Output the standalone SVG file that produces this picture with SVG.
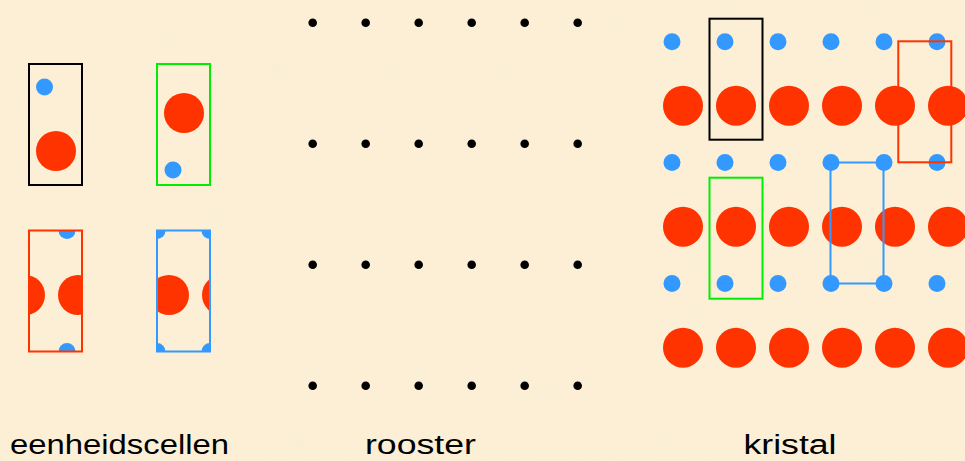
<svg xmlns="http://www.w3.org/2000/svg" width="965" height="461" viewBox="0 0 965 461">
<style>
.bg{fill:#FCEFD6}
.red{fill:#FF3300}
.blue{fill:#3399FF}
.dot{fill:#000}
.cell{fill:none;stroke-width:2}
.k{stroke:#000}
.g{stroke:#00EE00}
.r{stroke:#FF3300}
.b{stroke:#3399FF}
.lbl{font-family:"Comic Sans MS","Liberation Sans",sans-serif;font-size:27px;fill:#000}
</style>
<defs>
<filter id="paper" x="0" y="0" width="100%" height="100%">
<feTurbulence type="fractalNoise" baseFrequency="0.035" numOctaves="3" seed="4" result="n"/>
<feColorMatrix type="matrix" values="0 0 0 0 0.93  0 0 0 0 0.86  0 0 0 0 0.66  0 0 0 1.1 -0.45" result="c"/>
<feComposite in="c" in2="SourceGraphic" operator="in"/>
</filter>
<clipPath id="cpR"><rect x="29" y="230.5" width="53" height="121"/></clipPath>
<clipPath id="cpB"><rect x="157" y="230.5" width="53" height="121"/></clipPath>
</defs>
<rect class="bg" x="0" y="0" width="965" height="461"/>
<rect x="0" y="0" width="965" height="461" fill="#FCEFD6" filter="url(#paper)" opacity="0.5"/>

<g id="cell-black">
<circle class="blue" cx="44.5" cy="87" r="8.5"/>
<circle class="red" cx="56" cy="151" r="20"/>
<rect class="cell k" x="29" y="64" width="53" height="121"/>
</g>
<g id="cell-green">
<circle class="red" cx="184" cy="113" r="20"/>
<circle class="blue" cx="173" cy="170" r="8.5"/>
<rect class="cell g" x="157" y="64" width="53" height="121"/>
</g>
<g id="cell-red">
<g clip-path="url(#cpR)">
<circle class="red" cx="25" cy="295" r="20"/>
<circle class="red" cx="78" cy="295" r="20"/>
<circle class="blue" cx="67" cy="230.5" r="8.5"/>
<circle class="blue" cx="67" cy="351.5" r="8.5"/>
</g>
<rect class="cell r" x="29" y="230.5" width="53" height="121"/>
</g>
<g id="cell-blue">
<g clip-path="url(#cpB)">
<circle class="red" cx="169" cy="295" r="20"/>
<circle class="red" cx="222" cy="295" r="20"/>
<circle class="blue" cx="157" cy="230.5" r="8.5"/>
<circle class="blue" cx="210" cy="230.5" r="8.5"/>
<circle class="blue" cx="157" cy="351.5" r="8.5"/>
<circle class="blue" cx="210" cy="351.5" r="8.5"/>
</g>
<rect class="cell b" x="157" y="230.5" width="53" height="121"/>
</g>

<g id="lattice">
<g class="dot">
<circle cx="312.7" cy="22.7" r="4.3"/><circle cx="365.7" cy="22.7" r="4.3"/><circle cx="418.7" cy="22.7" r="4.3"/><circle cx="471.7" cy="22.7" r="4.3"/><circle cx="524.7" cy="22.7" r="4.3"/><circle cx="577.7" cy="22.7" r="4.3"/>
<circle cx="312.7" cy="143.7" r="4.3"/><circle cx="365.7" cy="143.7" r="4.3"/><circle cx="418.7" cy="143.7" r="4.3"/><circle cx="471.7" cy="143.7" r="4.3"/><circle cx="524.7" cy="143.7" r="4.3"/><circle cx="577.7" cy="143.7" r="4.3"/>
<circle cx="312.7" cy="264.7" r="4.3"/><circle cx="365.7" cy="264.7" r="4.3"/><circle cx="418.7" cy="264.7" r="4.3"/><circle cx="471.7" cy="264.7" r="4.3"/><circle cx="524.7" cy="264.7" r="4.3"/><circle cx="577.7" cy="264.7" r="4.3"/>
<circle cx="312.7" cy="385.7" r="4.3"/><circle cx="365.7" cy="385.7" r="4.3"/><circle cx="418.7" cy="385.7" r="4.3"/><circle cx="471.7" cy="385.7" r="4.3"/><circle cx="524.7" cy="385.7" r="4.3"/><circle cx="577.7" cy="385.7" r="4.3"/>
</g>
</g>

<g id="crystal">
<g class="blue">
<circle cx="672" cy="41.7" r="8.5"/><circle cx="725" cy="41.7" r="8.5"/><circle cx="778" cy="41.7" r="8.5"/><circle cx="831" cy="41.7" r="8.5"/><circle cx="884" cy="41.7" r="8.5"/><circle cx="937" cy="41.7" r="8.5"/>
<circle cx="672" cy="162.5" r="8.5"/><circle cx="725" cy="162.5" r="8.5"/><circle cx="778" cy="162.5" r="8.5"/><circle cx="831" cy="162.5" r="8.5"/><circle cx="884" cy="162.5" r="8.5"/><circle cx="937" cy="162.5" r="8.5"/>
<circle cx="672" cy="283.5" r="8.5"/><circle cx="725" cy="283.5" r="8.5"/><circle cx="778" cy="283.5" r="8.5"/><circle cx="831" cy="283.5" r="8.5"/><circle cx="884" cy="283.5" r="8.5"/><circle cx="937" cy="283.5" r="8.5"/>
</g>
<g class="red">
<circle cx="683" cy="105.7" r="20"/><circle cx="736" cy="105.7" r="20"/><circle cx="789" cy="105.7" r="20"/><circle cx="842" cy="105.7" r="20"/><circle cx="895" cy="105.7" r="20"/><circle cx="948" cy="105.7" r="20"/>
<circle cx="683" cy="226.7" r="20"/><circle cx="736" cy="226.7" r="20"/><circle cx="789" cy="226.7" r="20"/><circle cx="842" cy="226.7" r="20"/><circle cx="895" cy="226.7" r="20"/><circle cx="948" cy="226.7" r="20"/>
<circle cx="683" cy="347.7" r="20"/><circle cx="736" cy="347.7" r="20"/><circle cx="789" cy="347.7" r="20"/><circle cx="842" cy="347.7" r="20"/><circle cx="895" cy="347.7" r="20"/><circle cx="948" cy="347.7" r="20"/>
</g>
<rect class="cell k" x="709.5" y="18.7" width="53" height="121"/>
<rect class="cell r" x="898.3" y="41.3" width="53" height="121"/>
<rect class="cell g" x="709.5" y="177.7" width="53" height="121"/>
<rect class="cell b" x="830.5" y="162.5" width="53" height="121"/>
</g>

<g id="labels">
<text class="lbl" x="10" y="454" textLength="219" lengthAdjust="spacingAndGlyphs">eenheidscellen</text>
<text class="lbl" x="365" y="454" textLength="111" lengthAdjust="spacingAndGlyphs">rooster</text>
<text class="lbl" x="743.5" y="454" textLength="93" lengthAdjust="spacingAndGlyphs">kristal</text>
</g>
</svg>
